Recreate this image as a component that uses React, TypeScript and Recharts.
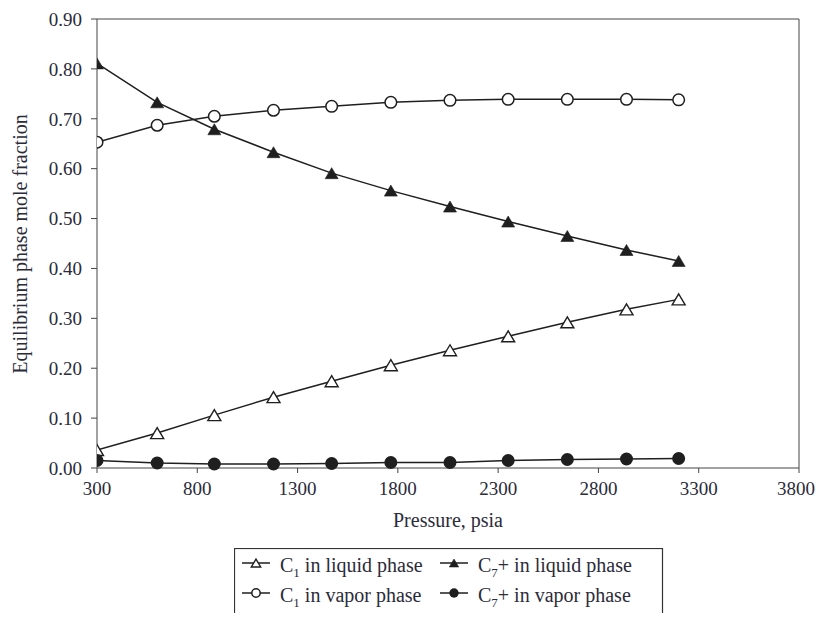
import React from "react";
import { LineChart, Line, XAxis, YAxis, ReferenceLine } from "recharts";

// Pressure steps (psia) and equilibrium phase mole fractions
const pressure = [300, 600, 885, 1180, 1470, 1765, 2060, 2350, 2645, 2940, 3200];
const c1Liquid = [0.036, 0.07, 0.106, 0.142, 0.174, 0.206, 0.236, 0.264, 0.292, 0.318, 0.338];
const c7Liquid = [0.811, 0.733, 0.679, 0.633, 0.591, 0.556, 0.524, 0.494, 0.465, 0.437, 0.415];
const c1Vapor = [0.653, 0.687, 0.705, 0.717, 0.725, 0.733, 0.737, 0.739, 0.739, 0.739, 0.738];
const c7Vapor = [0.015, 0.01, 0.008, 0.008, 0.009, 0.011, 0.011, 0.015, 0.017, 0.018, 0.019];

const xTicks = [300, 800, 1300, 1800, 2300, 2800, 3300, 3800];
const yTicks = [0, 0.1, 0.2, 0.3, 0.4, 0.5, 0.6, 0.7, 0.8, 0.9];

const data = pressure.map((p, i) => ({
  p,
  c1Liquid: c1Liquid[i],
  c7Liquid: c7Liquid[i],
  c1Vapor: c1Vapor[i],
  c7Vapor: c7Vapor[i],
}));

const FONT = "'Liberation Serif', 'DejaVu Serif', serif";
const TEXT = "#2b2b3a";
const INK = "#1f1f1f";
const AXIS = "#444";

type Shape = "triangle" | "circle";

function Marker({ cx, cy, shape, filled, size = 1 }: { cx: number; cy: number; shape: Shape; filled: boolean; size?: number }) {
  if (cx == null || cy == null) return null;
  const fill = filled ? INK : "#fff";
  if (shape === "circle") {
    const r = (filled ? 6.5 : 5.8) * size;
    return <circle cx={cx} cy={cy} r={r} fill={fill} stroke={INK} strokeWidth={filled ? 0 : 1.5} />;
  }
  const w = 6.5 * size;
  const h = 5.5 * size;
  const pts = `${cx - w},${cy + h} ${cx + w},${cy + h} ${cx},${cy - h}`;
  return <polygon points={pts} fill={fill} stroke={INK} strokeWidth={filled ? 0.6 : 1.4} strokeLinejoin="miter" />;
}

const dot = (shape: Shape, filled: boolean) => (props: any) => (
  <Marker key={`${shape}-${filled}-${props.index}`} cx={props.cx} cy={props.cy} shape={shape} filled={filled} />
);

const YLabel = () => (
  <text
    x={19}
    y={236}
    transform="rotate(-90 19 236)"
    textAnchor="middle"
    fontFamily={FONT}
    fontSize={20}
    fill={TEXT}
  >
    Equilibrium phase mole fraction
  </text>
);

const legendItems: { sub: string; rest: string; shape: Shape; filled: boolean; col: number; row: number }[] = [
  { sub: "1", rest: " in liquid phase", shape: "triangle", filled: false, col: 0, row: 0 },
  { sub: "7", rest: "+ in liquid phase", shape: "triangle", filled: true, col: 1, row: 0 },
  { sub: "1", rest: " in vapor phase", shape: "circle", filled: false, col: 0, row: 1 },
  { sub: "7", rest: "+ in vapor phase", shape: "circle", filled: true, col: 1, row: 1 },
];

// Legend box runs past the bottom edge, so only its top and sides show
function LegendBox() {
  return (
    <svg width={432} height={65} style={{ position: "absolute", left: 226, top: 540 }}>
      <rect x={0.5} y={0.5} width={428} height={100} fill="none" stroke="#333" strokeWidth={1.2} />
      {legendItems.map((it, i) => {
        const x0 = it.col === 0 ? 8 : 206;
        const base = it.row === 0 ? 24 : 54;
        const ly = base - 9;
        return (
          <g key={i}>
            <line x1={x0} x2={x0 + 28} y1={ly} y2={ly} stroke={INK} strokeWidth={1.5} />
            <Marker cx={x0 + 14} cy={ly} shape={it.shape} filled={it.filled} size={0.72} />
            <text x={x0 + 38} y={base} fontFamily={FONT} fontSize={20} fill={TEXT}>
              C
              <tspan dy={5} fontSize={13}>
                {it.sub}
              </tspan>
              <tspan dy={-5}>{it.rest}</tspan>
            </text>
          </g>
        );
      })}
    </svg>
  );
}

export default function App() {
  const tick = { fontFamily: FONT, fontSize: 19, fill: TEXT };
  return (
    <div style={{ position: "relative", width: 807, height: 605, overflow: "hidden" }}>
      <LineChart width={807} height={540} data={data} margin={{ top: 11, right: 16, left: 0, bottom: 0 }}>
        <XAxis
          dataKey="p"
          type="number"
          domain={[300, 3800]}
          ticks={xTicks}
          allowDataOverflow
          height={80}
          tick={tick}
          tickSize={5}
          tickMargin={9}
          stroke={AXIS}
          tickLine={{ stroke: AXIS }}
          label={{ value: "Pressure, psia", position: "insideBottom", offset: 21, fontFamily: FONT, fontSize: 20, fill: TEXT }}
        />
        <YAxis
          type="number"
          domain={[0, 0.9]}
          ticks={yTicks}
          width={89}
          tick={tick}
          tickSize={6}
          tickMargin={9}
          stroke={AXIS}
          tickLine={{ stroke: AXIS }}
          tickFormatter={(v: number) => v.toFixed(2)}
          label={<YLabel />}
        />
        <ReferenceLine y={0.9} stroke={AXIS} strokeWidth={1} />
        <ReferenceLine x={3800} stroke={AXIS} strokeWidth={1} />
        <Line dataKey="c1Liquid" stroke={INK} strokeWidth={1.5} dot={dot("triangle", false)} isAnimationActive={false} />
        <Line dataKey="c7Liquid" stroke={INK} strokeWidth={1.5} dot={dot("triangle", true)} isAnimationActive={false} />
        <Line dataKey="c1Vapor" stroke={INK} strokeWidth={1.5} dot={dot("circle", false)} isAnimationActive={false} />
        <Line dataKey="c7Vapor" stroke={INK} strokeWidth={1.5} dot={dot("circle", true)} isAnimationActive={false} />
      </LineChart>
      <LegendBox />
    </div>
  );
}
